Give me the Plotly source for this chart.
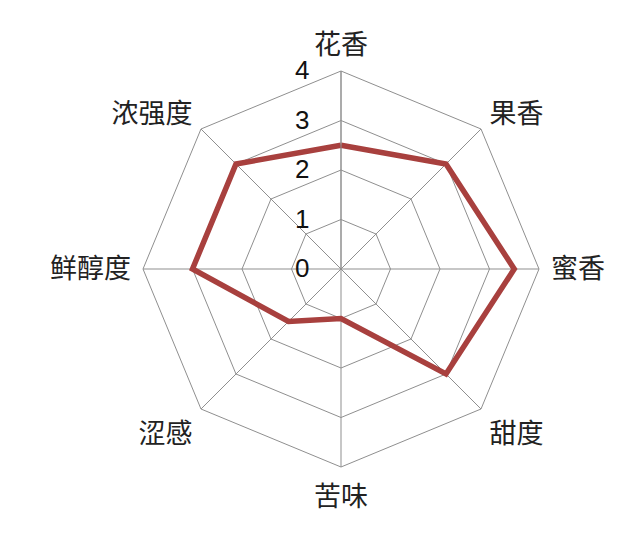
import plotly.graph_objects as go

# 品鉴维度（顺时针，从正上方开始）
categories = ["花香", "果香", "蜜香", "甜度", "苦味", "涩感", "鲜醇度", "浓强度"]
scores = [2.5, 3.0, 3.5, 3.0, 1.0, 1.5, 3.0, 3.0]
tick_vals = [0, 1, 2, 3, 4]
tick_text = ["0", "1", "2", "3", "4"]

fig = go.Figure()
fig.add_trace(go.Scatterpolar(
    r=scores + scores[:1],
    theta=categories + categories[:1],
    mode="lines",
    line=dict(color="#a8403e", width=5.5),
    hoverinfo="skip",
    showlegend=False,
))

fig.update_layout(
    width=640, height=539,
    paper_bgcolor="white",
    margin=dict(l=135, r=109, t=63, b=80),
    font=dict(family="Noto Sans CJK SC", color="#222222"),
    polar=dict(
        bgcolor="white",
        gridshape="linear",
        angularaxis=dict(
            direction="clockwise",
            rotation=90,
            showline=True,
            linecolor="#8f8f8f",
            linewidth=1,
            gridcolor="#8f8f8f",
            gridwidth=1,
            ticks="outside",
            ticklen=6,
            tickcolor="rgba(0,0,0,0)",
            tickfont=dict(size=27, family="Noto Sans CJK SC", color="#222222"),
        ),
        radialaxis=dict(
            range=[0, 4],
            angle=90,
            side="counterclockwise",
            tickangle=90,
            tickvals=tick_vals,
            ticktext=tick_text,
            showline=True,
            linecolor="#8f8f8f",
            linewidth=1,
            gridcolor="#8f8f8f",
            gridwidth=1,
            ticks="outside",
            ticklen=22,
            tickcolor="rgba(0,0,0,0)",
            tickfont=dict(size=26, family="Liberation Sans", color="#111111"),
        ),
    ),
)

fig.write_html("out.html")
